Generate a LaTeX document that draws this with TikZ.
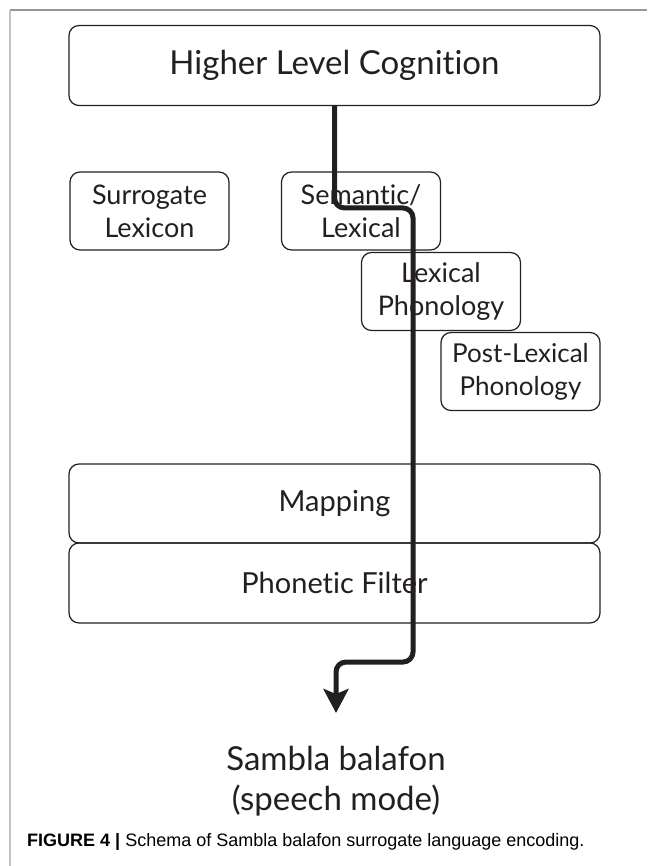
\documentclass[tikz,border=0pt]{standalone}
\usepackage{fontspec}
\setmainfont{Lato}[Ligatures={NoCommon,NoRequired,NoContextual}]
\newfontfamily\capfont{Liberation Sans}
\usetikzlibrary{positioning,arrows.meta}
\definecolor{ink}{RGB}{35,31,32}
\definecolor{rimTop}{RGB}{150,150,150}
\definecolor{rimLeft}{RGB}{195,195,195}

\begin{document}
\begin{tikzpicture}[
  x=1pt, y=-1pt,
  font=\fontsize{27}{33}\selectfont,
  stage/.style={rectangle, rounded corners=10pt, draw=ink, line width=1.2pt, align=center, inner sep=0pt, text=ink},
  wide/.style={stage, minimum width=531pt, minimum height=79pt, font=\fontsize{29}{33}\selectfont},
  small/.style={stage, minimum width=159pt, minimum height=78pt},
  route/.style={draw=ink, line width=5pt, rounded corners=10pt, -{Stealth[length=24pt,width=25pt,inset=5pt]}},
]
\useasboundingbox (0,0) rectangle (647,866);

% ---- page rim ----
\draw[rimTop, line width=1.5pt] (10,10) -- (647,10);
\draw[rimLeft, line width=1.5pt] (10,10) -- (10,866);

% ---- top level ----
\node[wide, minimum height=80pt, font=\fontsize{33}{38}\selectfont] (HLC) at (334.5,65.5) {Higher Level Cognition};

% ---- lexicon staircase ----
\node[small] (SUR) at (149.5,211) {Surrogate\\Lexicon};
\node[small] (SEM) at (361,211) {Semantic/\\Lexical};
\node[small] (LEX) at (441,291.5) {Lexical\\Phonology};
\node[small, font=\fontsize{26}{33}\selectfont] (POST) at (520.5,371.5) {Post-Lexical\\Phonology};

% ---- output stages ----
\node[wide] (MAP) at (334.5,503.5) {Mapping};
\node[wide, minimum height=80pt] (PHF) at (334.5,583) {Phonetic Filter};

% ---- result ----
\node[align=center, anchor=north, text=ink, font=\fontsize{33}{40}\selectfont] (OUT) at (336,743) {Sambla balafon\\(speech mode)};
\coordinate (tip) at (336,713);

% ---- route through the stages ----
\draw[route] (HLC.south) -- (334.5,208) -- (413,208) -- (413,662) -- (336,662) -- (tip);

% ---- caption ----
\node[anchor=base west, inner sep=0pt, font=\capfont\fontsize{18}{21}\selectfont] (CAP) at (27,846) {\textbf{FIGURE 4 |} Schema of Sambla balafon surrogate language encoding.};

\end{tikzpicture}
\end{document}
